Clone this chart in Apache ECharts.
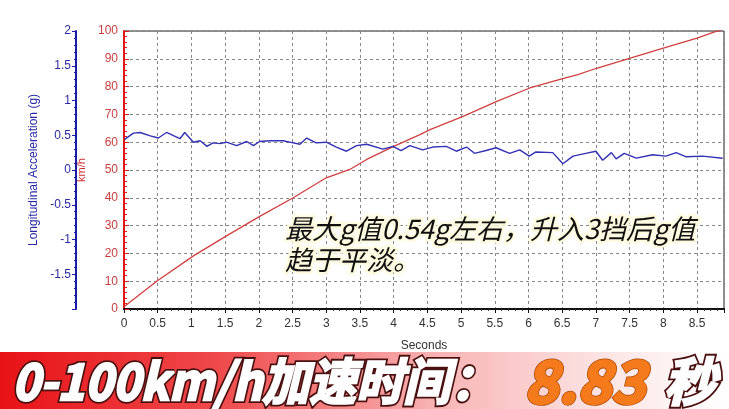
<!DOCTYPE html>
<html><head><meta charset="utf-8">
<script src="https://cdn.jsdelivr.net/npm/echarts@6/dist/echarts.min.js"></script>
<style>html,body{margin:0;padding:0;background:#fff}#c{width:729px;height:409px}</style>
</head><body><div id="c"></div>
<script>
// Data
const timeSpeed = [0,0.49,1.03,1.52,2.02,2.51,3.0,3.35,3.6,4.0,4.39,4.54,5.03,5.53,6.02,6.52,6.72,7.01,7.51,8.0,8.5,8.77,8.86];
const speedKmh  = [0.8,10.1,19.1,26.3,33.4,40,47.2,50.2,53.8,58.5,62.7,64.5,69.3,74.7,79.5,83.0,84.2,86.6,90.2,93.8,97.4,99.8,100.2];
const timeAccel = [0.01,0.14,0.24,0.39,0.51,0.63,0.83,0.90,1.03,1.13,1.23,1.32,1.42,1.52,1.67,1.82,1.92,2.01,2.16,2.36,2.51,2.61,2.71,2.85,3.00,3.15,3.30,3.45,3.60,3.84,3.99,4.11,4.24,4.43,4.58,4.78,4.93,5.08,5.20,5.37,5.52,5.72,5.87,6.01,6.11,6.36,6.51,6.66,6.85,7.00,7.10,7.23,7.30,7.42,7.60,7.84,8.04,8.19,8.34,8.58,8.88];
const accelG    = [0.44,0.53,0.54,0.49,0.46,0.54,0.45,0.54,0.40,0.42,0.34,0.39,0.38,0.40,0.35,0.41,0.35,0.41,0.42,0.42,0.39,0.37,0.46,0.39,0.40,0.33,0.27,0.35,0.37,0.30,0.34,0.28,0.35,0.29,0.33,0.34,0.27,0.33,0.24,0.28,0.32,0.24,0.29,0.20,0.26,0.25,0.09,0.20,0.24,0.27,0.14,0.25,0.16,0.24,0.17,0.22,0.20,0.25,0.19,0.20,0.17];
const xTitle = 'Seconds';
const accelTitle = 'Longitudinal Acceleration (g)';
const speedTitle = 'km/h';
const noteLine1 = '最大g值0.54g左右，升入3挡后g值';
const noteLine2 = '趋于平淡。';
const bannerText = '0-100km/h加速时间：';
const bannerTime = '8.83';
const bannerUnit = '秒';

const chart = echarts.init(document.getElementById('c'));
const axFont = 'Liberation Sans, Arial, sans-serif';
const cjk = '"Noto Sans CJK SC", sans-serif';

function heavyText(text, x, y, size, fill, rim, sx, rimW) {
  const font = 'italic bold ' + size + 'px ' + cjk;
  const common = {type: 'text', scaleX: sx, originX: x, originY: y};
  return [
    Object.assign({}, common, {z: 60, style: {x: x, y: y, text: text, font: font, textVerticalAlign: 'middle',
      fill: rim, stroke: rim, lineWidth: rimW, shadowColor: 'rgba(0,0,0,0.45)', shadowBlur: 3, shadowOffsetX: 1, shadowOffsetY: 1}}),
    Object.assign({}, common, {z: 61, style: {x: x, y: y, text: text, font: font, textVerticalAlign: 'middle',
      fill: fill, stroke: fill, lineWidth: 2.4}})
  ];
}

chart.setOption({
  animation: false,
  backgroundColor: '#fff',
  grid: {left: 124, right: 5, top: 31, bottom: 100, show: true, borderColor: '#222', borderWidth: 1},
  xAxis: {
    type: 'value', min: 0, max: 8.9, interval: 0.5,
    name: xTitle, nameLocation: 'middle', nameGap: 31,
    nameTextStyle: {color: '#333', fontSize: 12, fontFamily: axFont},
    axisLine: {lineStyle: {color: '#111', width: 2}},
    axisTick: {show: true, length: 4, lineStyle: {color: '#111'}},
    minorTick: {show: true, splitNumber: 5, length: 2, lineStyle: {color: '#333'}},
    axisLabel: {color: '#333', fontSize: 12, fontFamily: axFont, margin: 9, showMaxLabel: false},
    splitLine: {show: true, lineStyle: {color: '#888', type: [3, 3], width: 1}}
  },
  yAxis: [{
    type: 'value', min: 0, max: 100, interval: 10, position: 'left', offset: 0,
    name: speedTitle, nameLocation: 'middle', nameGap: 37,
    nameTextStyle: {color: '#d03030', fontSize: 11, fontFamily: axFont},
    axisLine: {show: true, lineStyle: {color: '#e01818', width: 2}},
    axisTick: {show: true, inside: true, length: 5, lineStyle: {color: '#e01818'}},
    minorTick: {show: true, splitNumber: 5, length: 3, lineStyle: {color: '#e01818'}},
    axisLabel: {color: '#c84040', fontSize: 12, fontFamily: axFont, margin: 6},
    splitLine: {show: true, lineStyle: {color: '#888', type: [3, 3], width: 1}}
  }, {
    type: 'value', min: -2, max: 2, interval: 0.5, position: 'left', offset: 48,
    name: accelTitle, nameLocation: 'middle', nameGap: 30,
    nameTextStyle: {color: '#2a2aa8', fontSize: 12, fontFamily: axFont},
    axisLine: {show: true, lineStyle: {color: '#1a1aa8', width: 2}},
    axisTick: {show: true, length: 4, lineStyle: {color: '#1a1aa8'}},
    minorTick: {show: true, splitNumber: 5, length: 2, lineStyle: {color: '#1a1aa8'}},
    axisLabel: {color: '#2a2aa0', fontSize: 12, fontFamily: axFont, margin: 5, showMinLabel: false},
    splitLine: {show: false}
  }],
  series: [{
    type: 'line', yAxisIndex: 0, showSymbol: false, clip: true,
    data: timeSpeed.map((t, i) => [t, speedKmh[i]]),
    lineStyle: {color: '#d04040', width: 1.3}
  }, {
    type: 'line', yAxisIndex: 1, showSymbol: false,
    data: timeAccel.map((t, i) => [t, accelG[i]]),
    lineStyle: {color: '#3232b4', width: 1.4}
  }],
  graphic: [
    {type: 'text', z: 50, style: {x: 285, y: 229, text: noteLine1, fill: '#111', font: 'italic 27px ' + cjk,
      textVerticalAlign: 'middle', stroke: 'rgba(255,251,222,0.95)', lineWidth: 5}},
    {type: 'text', z: 50, style: {x: 285, y: 260, text: noteLine2, fill: '#111', font: 'italic 27px ' + cjk,
      textVerticalAlign: 'middle', stroke: 'rgba(255,251,222,0.95)', lineWidth: 5}},
    {type: 'rect', z: 40, shape: {x: 0, y: 352, width: 729, height: 57},
      style: {fill: new echarts.graphic.LinearGradient(0, 0, 1, 0, [
        {offset: 0, color: '#e81216'}, {offset: 0.3, color: '#ef4a4c'},
        {offset: 0.6, color: '#f8b4b4'}, {offset: 0.85, color: '#fde8e8'}, {offset: 1, color: '#ffffff'}])}}
  ].concat(
    heavyText(bannerText, 12, 381, 50, '#ffffff', '#4a1010', 0.94, 6),
    heavyText(bannerTime, 524, 381, 58, '#f47a1c', '#b0500c', 1, 4),
    heavyText(bannerUnit, 664, 381, 52, '#ffffff', '#4a1010', 1, 6)
  )
});
</script></body></html>
